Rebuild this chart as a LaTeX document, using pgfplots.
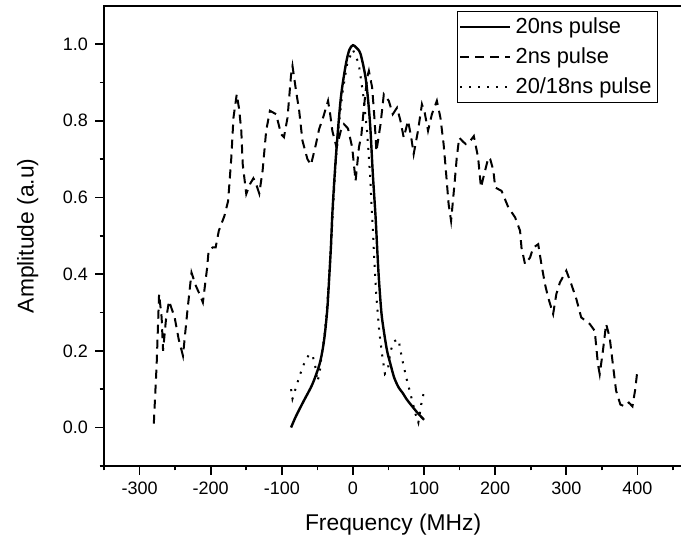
\documentclass[border=0pt]{standalone}
\usepackage{fontspec}
\setmainfont{Liberation Sans}
\usepackage{pgfplots}
\pgfplotsset{compat=1.18}
\begin{document}
\begin{tikzpicture}
\begin{axis}[
  name=ax,
  scale only axis,
  width=289pt, height=230pt,
  xmin=-350, xmax=463, ymin=-0.1, ymax=1.1,
  xtick={-300,-200,-100,0,100,200,300,400},
  xticklabels={-300,-200,-100,0,100,200,300,400},
  minor xtick={-350,-250,-150,-50,50,150,250,350,450},
  ytick={0,0.2,0.4,0.6,0.8,1.0},
  yticklabels={0.0,0.2,0.4,0.6,0.8,1.0},
  minor ytick={-0.1,0.1,0.3,0.5,0.7,0.9},
  tick pos=left,
  tick align=outside,
  major tick length=4.5pt,
  minor tick length=2.2pt,
  every tick/.style={black, line width=0.8pt},
  axis line style={line width=1.1pt},
  tick label style={font=\fontsize{9}{10}\selectfont},
  xlabel={Frequency (MHz)},
  ylabel={Amplitude (a.u)},
  label style={font=\fontsize{11.4}{13}\selectfont},
  xlabel style={at={(axis description cs:0.5,-0.128)}, anchor=center},
  ylabel style={at={(axis description cs:-0.132,0.5)}, anchor=center},
  legend cell align=left,
  legend image code/.code={\draw[#1] (0pt,0pt) -- (25pt,0pt);},
  legend style={at={(0.958,0.988)}, anchor=north east, draw=black, line width=0.5pt,
    font=\fontsize{10.9}{12}\selectfont, inner xsep=1pt, inner ysep=1pt, row sep=1.5pt,
    /tikz/every even column/.append style={column sep=2pt}},
]
\addplot[black, line width=1.2pt, smooth] coordinates {
(-87,0.0) (-80,0.03) (-69,0.07) (-57,0.113) (-47,0.165) (-42,0.21) (-39,0.252)
(-36,0.31) (-33.6,0.383) (-31,0.47) (-29,0.556) (-26,0.65) (-23,0.73) (-17,0.86)
(-10,0.947) (-5,0.985) (0,0.997) (5,0.99) (10.7,0.974) (17.7,0.913) (22,0.84)
(24.7,0.774) (28,0.66) (31.8,0.55) (34,0.47) (36.4,0.39) (40,0.30) (43.4,0.252)
(48,0.2) (52.8,0.165) (58,0.13) (64.4,0.104) (70,0.09) (75,0.075) (80.8,0.061)
(90,0.04) (97,0.026) (100,0.02)
};
\addlegendentry{20ns pulse}
\addplot[black, line width=1pt, dash pattern=on 4.5pt off 3pt] coordinates {
(-280,0.01) (-276,0.165) (-272.6,0.348) (-269,0.287) (-267,0.20) (-263,0.28)
(-258.6,0.33) (-250.7,0.287) (-245,0.23) (-239,0.187) (-233,0.30) (-227,0.404)
(-221,0.37) (-215.7,0.348) (-211,0.326) (-205,0.417) (-203,0.46) (-197,0.47)
(-193,0.47) (-188.6,0.513) (-180.7,0.552) (-175.5,0.591) (-171,0.704) (-168,0.808)
(-163.4,0.869) (-160,0.83) (-157,0.774) (-155,0.687) (-150,0.609) (-144.7,0.635)
(-140,0.65) (-137,0.64) (-131.7,0.61) (-127,0.67) (-122,0.774) (-116.7,0.826)
(-108,0.817) (-101,0.765) (-97,0.757) (-92,0.808) (-87,0.92) (-85,0.943)
(-80,0.878) (-75.6,0.826) (-71,0.748) (-64,0.70) (-59,0.685) (-52,0.739)
(-47.6,0.778) (-42,0.808) (-35,0.852) (-32,0.817) (-29,0.774) (-23,0.73)
(-17,0.774) (-12.6,0.791) (-7,0.78) (-1,0.73) (3.7,0.643) (8.4,0.73) (12,0.765)
(15.4,0.834) (20,0.913) (22.4,0.93) (27,0.887) (30.5,0.80) (33,0.72) (38.8,0.791)
(43.4,0.869) (50.4,0.852) (56,0.817) (62,0.834) (66.8,0.8) (71.4,0.756) (77.5,0.8)
(82,0.756) (85.4,0.713) (91.5,0.774) (97,0.843) (101,0.82) (105.6,0.774) (111,0.817)
(118,0.852) (123,0.808) (127.5,0.739) (130.7,0.67) (134.5,0.583) (138,0.539)
(142.8,0.635) (146,0.704) (149.4,0.756) (155,0.745) (158.8,0.739) (164,0.745)
(170,0.76) (176,0.704) (180,0.626) (185.8,0.67) (190.5,0.704) (193,0.70)
(197.5,0.67) (200,0.626) (209,0.617) (218.5,0.574) (228,0.548) (235,0.513)
(237,0.469) (242,0.426) (249,0.443) (253.5,0.469) (260.5,0.478) (265,0.426)
(270,0.374) (274.5,0.339) (281.5,0.296) (286,0.348) (291,0.378) (300,0.409)
(307,0.374) (314,0.336) (321,0.287) (333,0.27) (340,0.252) (344.5,0.165)
(347,0.139) (351.5,0.2) (356,0.27) (361,0.235) (365.5,0.165) (370,0.096)
(376,0.06) (382,0.055) (388,0.065) (393,0.055) (397,0.10) (400,0.15)
};
\addlegendentry{2ns pulse}
\addplot[black, line width=1pt, dash pattern=on 1pt off 3.5pt] coordinates {
(-87,0.10) (-85,0.075) (-80,0.105) (-75,0.135) (-69,0.165) (-62,0.19) (-57,0.19)
(-53,0.16) (-50,0.12) (-47,0.14) (-44,0.19) (-40,0.24) (-37,0.3) (-34,0.38)
(-31,0.47) (-28,0.57) (-25,0.67) (-21,0.77) (-15,0.87) (-8,0.95) (0,0.985)
(8,0.95) (15,0.86) (20,0.77) (24,0.66) (27,0.55) (30,0.44) (33,0.34) (37,0.25)
(41,0.19) (45,0.14) (49,0.15) (53,0.2) (58,0.225) (64,0.23) (69,0.18) (75,0.13)
(81,0.087) (88,0.035) (92,0.013) (96,0.06) (99.5,0.09)
};
\addlegendentry{20/18ns pulse}
\end{axis}
\pgfresetboundingbox
\path[use as bounding box] ([xshift=-52pt,yshift=-37.5pt]ax.south west) rectangle ([xshift=-0.6pt,yshift=2.85pt]ax.north east);
\end{tikzpicture}
\end{document}
